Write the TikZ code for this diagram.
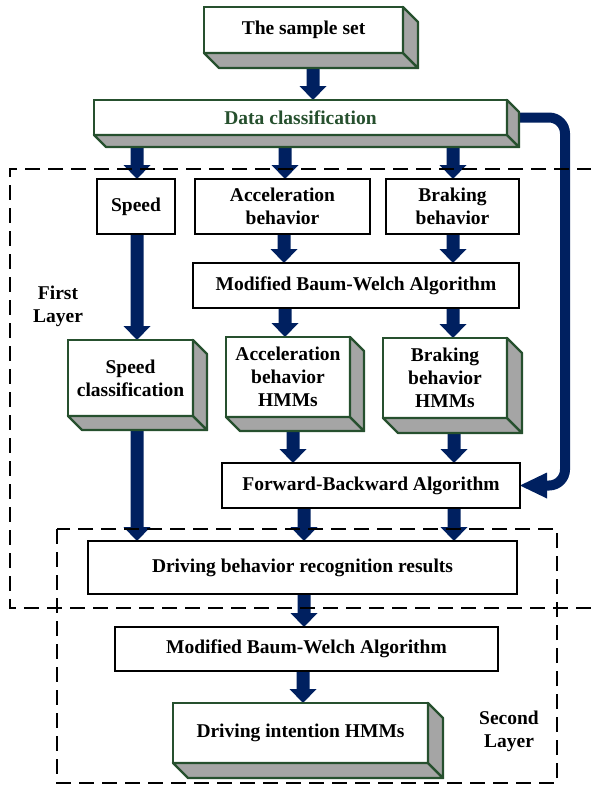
\documentclass[tikz,border=0pt]{standalone}
\usepackage{fontspec}
\setmainfont{Liberation Serif}
\usetikzlibrary{calc,backgrounds}

\definecolor{navy}{HTML}{002060}
\definecolor{boxgreen}{HTML}{26502E}
\definecolor{sidegray}{HTML}{A5A5A5}

\tikzset{
  lbl/.style={font=\bfseries\fontsize{19.5}{23}\selectfont, align=center},
  flatbox/.style={lbl, draw=black, line width=2.6pt, fill=white,
    inner sep=0pt, outer sep=0pt},
  solidbox/.style={lbl, draw=boxgreen, line width=2.4pt, fill=white,
    inner sep=0pt, outer sep=0pt},
  sideface/.style={draw=boxgreen, line width=2.4pt, fill=sidegray, line join=round},
  layerframe/.style={draw=black, line width=1.8pt, dash pattern=on 15pt off 8pt},
  arrowfill/.style={fill=navy},
  feedback/.style={draw=navy, line width=10pt, rounded corners=16pt},
}

% grey bottom and right faces of a raised box
\newcommand\boxdepth[2]{%
  \filldraw[sideface] (#1.south west) -- (#1.south east)
    -- ($(#1.south east)+(#2,#2)$) -- ($(#1.south west)+(#2,#2)$) -- cycle;
  \filldraw[sideface] (#1.north east) -- ($(#1.north east)+(#2,#2)$)
    -- ($(#1.south east)+(#2,#2)$) -- (#1.south east) -- cycle;}

% thick downward block arrow from #1 (top) to #2 (tip)
\newcommand\thickdown[2]{%
  \fill[arrowfill] ($#1+(-6.5,0)$) -- ($#1+(6.5,0)$) -- ($#2+(6.5,-14)$)
    -- ($#2+(13.5,-14)$) -- #2 -- ($#2+(-13.5,-14)$) -- ($#2+(-6.5,-14)$) -- cycle;}

\begin{document}
\begin{tikzpicture}[x=1pt, y=-1pt]
\useasboundingbox (0,0) rectangle (590,787);

% boxes
\node[solidbox, minimum width=199pt, minimum height=46pt] (sample) at (303.5,30) {The sample set};
\node[solidbox, minimum width=413pt, minimum height=35pt, text=boxgreen] (dataclass) at (300.5,117.5) {Data classification};

\node[flatbox, minimum width=78pt, minimum height=55pt] (speed) at (136,206.5) {Speed};
\node[flatbox, minimum width=175pt, minimum height=55pt] (accel) at (282.5,206.5) {Acceleration\\behavior};
\node[flatbox, minimum width=133pt, minimum height=55pt] (brake) at (452.5,206.5) {Braking\\behavior};

\node[flatbox, minimum width=326pt, minimum height=45pt] (mbwa) at (356,285.5) {Modified Baum-Welch Algorithm};

\node[solidbox, minimum width=125pt, minimum height=76pt] (speedcls) at (130.5,378) {Speed\\classification};
\node[solidbox, minimum width=124pt, minimum height=80pt] (acchmm) at (288,377) {Acceleration\\behavior\\HMMs};
\node[solidbox, minimum width=124pt, minimum height=80pt] (brkhmm) at (445,378) {Braking\\behavior\\HMMs};

\node[flatbox, minimum width=298pt, minimum height=45pt] (fb) at (371,485.5) {Forward-Backward Algorithm};
\node[flatbox, minimum width=429pt, minimum height=53pt] (recog) at (302.5,567.5) {Driving behavior recognition results};
\node[flatbox, minimum width=383pt, minimum height=44pt] (mbwb) at (306.5,649) {Modified Baum-Welch Algorithm};
\node[solidbox, minimum width=255pt, minimum height=60pt] (intent) at (300.5,733) {Driving intention HMMs};

% layer captions
\node[lbl] (firstlbl) at (58,306) {First\\Layer};
\node[lbl] (secondlbl) at (509,731) {Second\\Layer};

% raised faces
\boxdepth{sample}{15}
\boxdepth{dataclass}{12}
\boxdepth{speedcls}{14}
\boxdepth{acchmm}{14}
\boxdepth{brkhmm}{15}
\boxdepth{intent}{15}

\begin{pgfonlayer}{background}
  % block arrows
  \thickdown{(sample.south -| 313,0)}{(dataclass.north -| 313,0)}
  \thickdown{(dataclass.south -| 137,0)}{(speed.north -| 137,0)}
  \thickdown{(dataclass.south -| 285,0)}{(accel.north -| 285,0)}
  \thickdown{(dataclass.south -| 453,0)}{(brake.north -| 453,0)}
  \thickdown{(speed.south -| 137,0)}{(speedcls.north -| 137,0)}
  \thickdown{(accel.south -| 284,0)}{(mbwa.north -| 284,0)}
  \thickdown{(brake.south -| 453,0)}{(mbwa.north -| 453,0)}
  \thickdown{(mbwa.south -| 285,0)}{(acchmm.north -| 285,0)}
  \thickdown{(mbwa.south -| 453,0)}{(brkhmm.north -| 453,0)}
  \thickdown{(speedcls.south -| 137,0)}{(recog.north -| 137,0)}
  \thickdown{(acchmm.south -| 293,0)}{(fb.north -| 293,0)}
  \thickdown{(brkhmm.south -| 454,0)}{(fb.north -| 454,0)}
  \thickdown{(fb.south -| 304,0)}{(recog.north -| 304,0)}
  \thickdown{(fb.south -| 454,0)}{(recog.north -| 454,0)}
  \thickdown{(recog.south -| 304,0)}{(mbwb.north -| 304,0)}
  \thickdown{(mbwb.south -| 303,0)}{(intent.north -| 303,0)}

  % feedback from the classification to the forward-backward step
  \draw[feedback] (dataclass.east) -- (dataclass.east -| 565,0)
    -- (fb.east -| 565,0) -- ($(fb.east)+(26,0)$);
  \fill[arrowfill] ($(fb.east)+(27,-13)$) -- (fb.east) -- ($(fb.east)+(27,13)$) -- cycle;

  % layer frames
  \draw[layerframe] (592,169) -- (10,169) -- (10,608) -- (592,608);
  \draw[layerframe] (57,529) rectangle (557,783);
\end{pgfonlayer}
\end{tikzpicture}
\end{document}
